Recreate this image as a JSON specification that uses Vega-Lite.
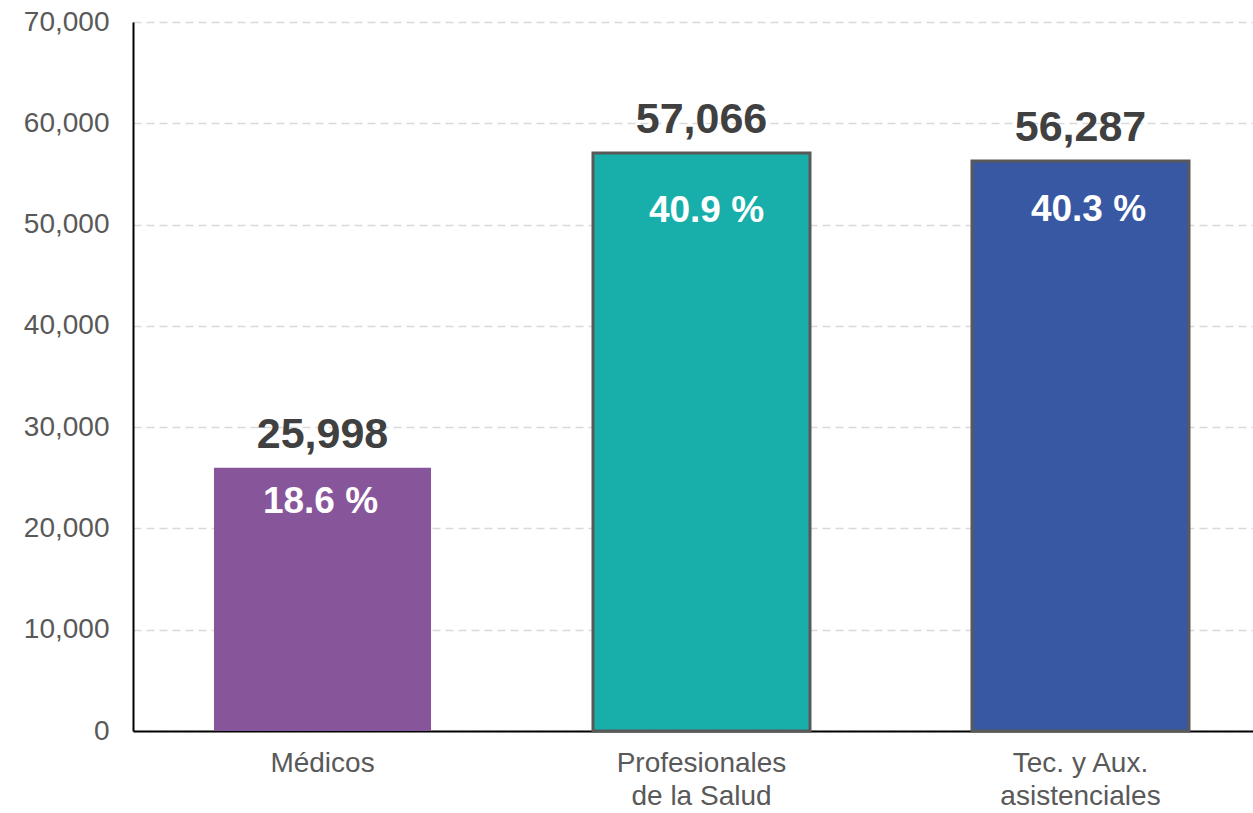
{
  "$schema": "https://vega.github.io/schema/vega-lite/v6.json",
  "autosize": {"type": "none"},
  "width": 1120,
  "height": 709,
  "padding": {"left": 133, "top": 22, "right": 0, "bottom": 82},
  "background": "white",
  "config": {
    "view": {"stroke": null},
    "font": "Liberation Sans"
  },
  "data": {
    "values": [
      {"cat": "Médicos", "value": 25998, "pct": "18.6 %"},
      {"cat": "Profesionales de la Salud", "value": 57066, "pct": "40.9 %"},
      {"cat": "Tec. y Aux. asistenciales", "value": 56287, "pct": "40.3 %"}
    ]
  },
  "encoding": {
    "x": {
      "field": "cat",
      "type": "nominal",
      "sort": null,
      "scale": {"range": [0, 1137], "paddingInner": 0.4274, "paddingOuter": 0.2137},
      "axis": {
        "title": null,
        "labelAngle": 0,
        "labelFont": "Liberation Sans",
        "labelFontSize": 28,
        "labelColor": "#595959",
        "labelPadding": 18,
        "labelLineHeight": 33,
        "labelBaseline": "top",
        "ticks": false,
        "domainColor": "#000000",
        "domainWidth": 2,
        "labelExpr": "datum.value == 'Profesionales de la Salud' ? ['Profesionales', 'de la Salud'] : datum.value == 'Tec. y Aux. asistenciales' ? ['Tec. y Aux.', 'asistenciales'] : datum.value"
      }
    },
    "y": {
      "field": "value",
      "type": "quantitative",
      "scale": {"domain": [0, 70000], "nice": false},
      "axis": {
        "title": null,
        "values": [0, 10000, 20000, 30000, 40000, 50000, 60000, 70000],
        "format": ",d",
        "labelFont": "Liberation Sans",
        "labelFontSize": 28,
        "labelColor": "#595959",
        "labelPadding": 24,
        "ticks": false,
        "domainColor": "#000000",
        "domainWidth": 2,
        "gridColor": "#d9d9d9",
        "gridDash": [8, 5],
        "gridWidth": 1.5
      }
    }
  },
  "layer": [
    {
      "mark": {"type": "bar", "stroke": "#595959"},
      "encoding": {
        "color": {
          "field": "cat",
          "type": "nominal",
          "scale": {
            "domain": ["Médicos", "Profesionales de la Salud", "Tec. y Aux. asistenciales"],
            "range": ["#87569a", "#18afaa", "#3858a3"]
          },
          "legend": null
        },
        "strokeWidth": {
          "condition": {"test": "datum.cat == 'Médicos'", "value": 0},
          "value": 3
        }
      }
    },
    {
      "mark": {"type": "text", "baseline": "alphabetic", "dy": -20, "fontSize": 43, "fontWeight": "bold", "color": "#404040", "font": "Liberation Sans"},
      "encoding": {"text": {"field": "value", "type": "quantitative", "format": ",d"}}
    },
    {
      "transform": [{"filter": "datum.cat == 'Médicos'"}],
      "mark": {"type": "text", "baseline": "alphabetic", "dy": 45, "dx": -2, "fontSize": 37, "fontWeight": "bold", "color": "#ffffff", "font": "Liberation Sans"},
      "encoding": {"text": {"field": "pct", "type": "nominal"}}
    },
    {
      "transform": [{"filter": "datum.cat == 'Profesionales de la Salud'"}],
      "mark": {"type": "text", "baseline": "alphabetic", "dy": 69, "dx": 5, "fontSize": 37, "fontWeight": "bold", "color": "#ffffff", "font": "Liberation Sans"},
      "encoding": {"text": {"field": "pct", "type": "nominal"}}
    },
    {
      "transform": [{"filter": "datum.cat == 'Tec. y Aux. asistenciales'"}],
      "mark": {"type": "text", "baseline": "alphabetic", "dy": 60, "dx": 8, "fontSize": 37, "fontWeight": "bold", "color": "#ffffff", "font": "Liberation Sans"},
      "encoding": {"text": {"field": "pct", "type": "nominal"}}
    }
  ]
}
